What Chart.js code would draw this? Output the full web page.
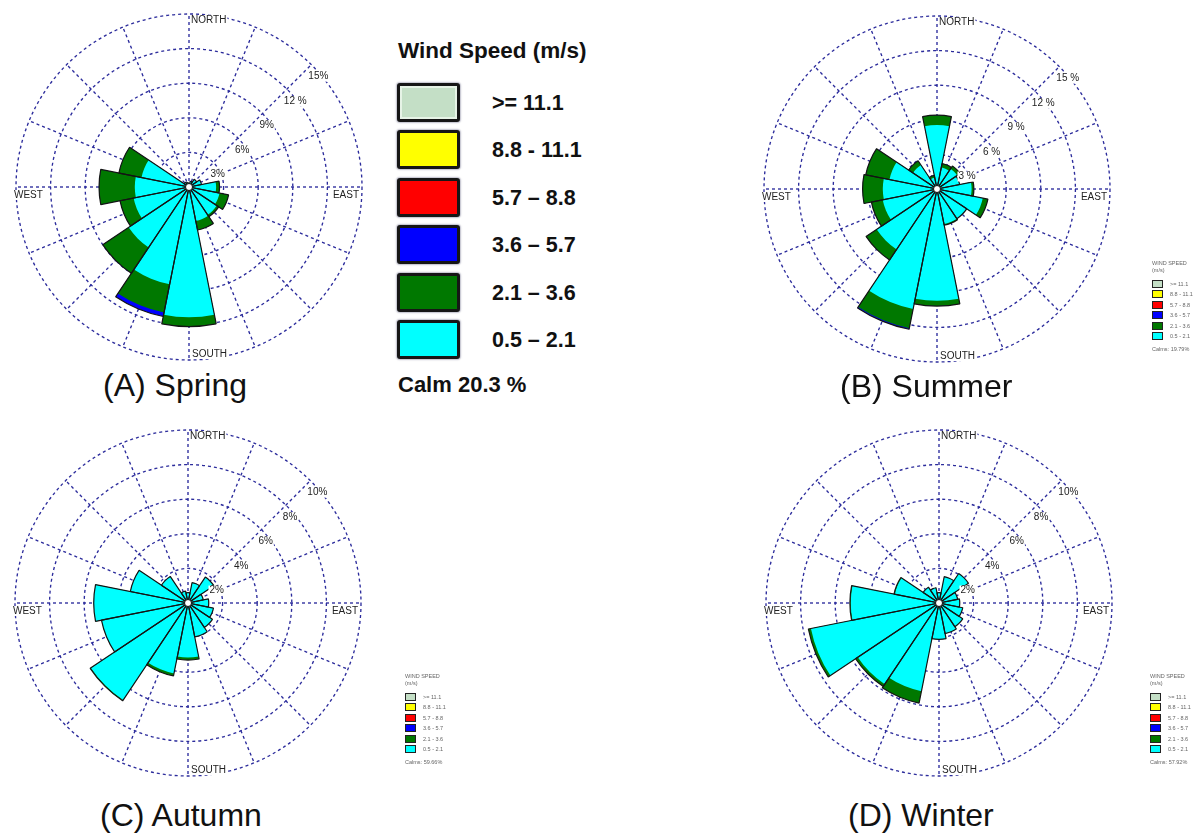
<!DOCTYPE html>
<html>
<head>
<meta charset="utf-8">
<title>Seasonal wind roses</title>
<script src="https://cdn.jsdelivr.net/npm/chart.js@4.4.1/dist/chart.umd.min.js"></script>
<style>
  html, body { margin: 0; padding: 0; background: #fff; overflow: hidden; }
  #page { position: relative; width: 1200px; height: 834px; font-family: "Liberation Sans", Arial, sans-serif; color: #111; }
  .rose { position: absolute; width: 360px; height: 360px; }
  .title { position: absolute; font-size: 32px; line-height: 32px; white-space: nowrap; color: #111; }
  .legend-head { position: absolute; left: 398px; top: 40px; font-size: 22.5px; line-height: 22.5px; font-weight: bold; white-space: nowrap; }
  .legend-box { position: absolute; left: 397px; width: 57px; height: 33px; border: 3px solid #161616; border-radius: 3px;
                box-shadow: 0 0 1.5px 1px rgba(110, 110, 140, 0.45); }
  .legend-label { position: absolute; left: 492px; font-size: 21.5px; line-height: 22px; font-weight: bold; white-space: nowrap; }
  .legend-calm { position: absolute; left: 398px; top: 374px; font-size: 22px; line-height: 22px; font-weight: bold; white-space: nowrap; }
  .mini { position: absolute; width: 60px; height: 96px; filter: blur(0.4px); color: #666; font-size: 5.5px; line-height: 6px; }
  .mini div { position: absolute; white-space: nowrap; }
  .mini .sw { width: 9px; height: 6px; border: 1px solid #222; }
</style>
</head>
<body>
<div id="page">
  <canvas id="spring" class="rose" width="360" height="360" style="left:9px;top:7px"></canvas>
  <canvas id="summer" class="rose" width="360" height="360" style="left:757px;top:9px"></canvas>
  <canvas id="autumn" class="rose" width="360" height="360" style="left:8px;top:423px"></canvas>
  <canvas id="winter" class="rose" width="360" height="360" style="left:759px;top:423px"></canvas>

  <div class="title" style="left:103px;top:369px">(A) Spring</div>
  <div class="title" style="left:840px;top:370px">(B) Summer</div>
  <div class="title" style="left:100px;top:799px">(C) Autumn</div>
  <div class="title" style="left:848px;top:799px">(D) Winter</div>

  <div id="bigLegend"></div>
  <div id="miniSummer" class="mini" style="left:1152px;top:260px"></div>
  <div id="miniAutumn" class="mini" style="left:405px;top:673px"></div>
  <div id="miniWinter" class="mini" style="left:1150px;top:673px"></div>
</div>

<script>
// Sixteen direction sectors, clockwise from north
const directions = ['N', 'NNE', 'NE', 'ENE', 'E', 'ESE', 'SE', 'SSE',
                    'S', 'SSW', 'SW', 'WSW', 'W', 'WNW', 'NW', 'NNW'];

// Wind speed classes (m/s) and their colours, fastest first
const speedClasses = ['>= 11.1', '8.8 - 11.1', '5.7 – 8.8', '3.6 – 5.7', '2.1 – 3.6', '0.5 – 2.1'];
const classColors  = ['#c4dfc6', '#ffff00', '#ff0000', '#0000ff', '#007800', '#00ffff'];

// Frequency (%) per direction for each speed class
const springLight    = [0.3, 0.5, 0.8, 1.1, 2.35, 2.7, 2.9, 3.0, 11.3, 8.6, 6.3, 4.9, 4.7, 4.2, 0.5, 0.4];
const springModerate = [0, 0, 0, 0, 0.3, 0.8, 0.2, 0.8, 0.8, 2.5, 2.7, 1.2, 3.1, 2.0, 0, 0];
const springFresh    = [0, 0, 0, 0, 0, 0, 0, 0, 0, 0.35, 0, 0, 0, 0, 0, 0];

const summerLight    = [5.55, 1.9, 2.1, 2.0, 3.0, 4.05, 3.1, 3.1, 9.7, 10.6, 6.3, 4.8, 4.7, 4.2, 2.5, 1.0];
const summerModerate = [0.85, 0.35, 0.3, 0, 0.2, 0.45, 0, 0.1, 0.45, 1.7, 1.1, 1.0, 1.75, 2.1, 0.45, 0.2];
const summerFresh    = [0, 0, 0, 0, 0, 0, 0, 0, 0, 0.1, 0, 0, 0, 0, 0, 0];

const autumnLight    = [0.6, 1.2, 1.8, 0.9, 1.2, 1.5, 1.7, 2.0, 3.15, 4.15, 6.75, 5.1, 5.45, 3.4, 1.85, 0.7];
const autumnModerate = [0, 0, 0, 0, 0, 0, 0, 0, 0.15, 0.15, 0.05, 0, 0, 0, 0, 0];

const winterLight    = [0.6, 1.55, 2.05, 1.1, 1.2, 1.4, 1.65, 1.8, 2.1, 5.2, 5.65, 7.55, 5.1, 2.6, 1.1, 0.9];
const winterModerate = [0, 0, 0, 0, 0, 0, 0, 0, 0, 0.7, 0.15, 0.15, 0.05, 0.05, 0, 0];

// Calm percentages
const springCalm = 20.3;
const summerCalm = 19.79;
const autumnCalm = 59.66;
const winterCalm = 57.92;

// Ring values and their labels
const springTicks = [3, 6, 9, 12, 15];
const springTickLabels = ['3%', '6%', '9%', '12 %', '15%'];
const summerTicks = [3, 6, 9, 12, 15];
const summerTickLabels = ['3 %', '6 %', '9 %', '12 %', '15 %'];
const autumnTicks = [2, 4, 6, 8, 10];
const autumnTickLabels = ['2%', '4%', '6%', '8%', '10%'];
const winterTicks = [2, 4, 6, 8, 10];
const winterTickLabels = ['2%', '4%', '6%', '8%', '10%'];

const compassNames = ['NORTH', 'EAST', 'SOUTH', 'WEST'];

const GRID_COLOR = '#2c2c9c';
const FONT = '"Liberation Sans", Arial, sans-serif';

// Calm circle, ring labels and compass names on top of the petals
const roseDecor = {
  id: 'roseDecor',
  afterDatasetsDraw(chart, args, opts) {
    const s = chart.scales.rGrid;
    const ctx = chart.ctx;
    const cx = s.xCenter, cy = s.yCenter, R = s.drawingArea;
    ctx.save();

    ctx.beginPath();
    ctx.arc(cx, cy, 3.5, 0, Math.PI * 2);
    ctx.fillStyle = '#fff';
    ctx.fill();
    ctx.lineWidth = 1;
    ctx.strokeStyle = '#111';
    ctx.stroke();

    ctx.font = '10px ' + FONT;
    ctx.textBaseline = 'middle';
    ctx.textAlign = 'left';
    opts.ticks.forEach((v, i) => {
      const d = s.getDistanceFromCenterForValue(v);
      const x = cx + d * Math.SQRT1_2 - 3;
      const y = cy - d * Math.SQRT1_2 + 12;
      const t = opts.tickLabels[i];
      const w = ctx.measureText(t).width;
      ctx.fillStyle = '#fff';
      ctx.fillRect(x - 1, y - 5, w + 2, 10);
      ctx.fillStyle = '#222';
      ctx.fillText(t, x, y);
    });

    const place = {
      NORTH: { x: cx + 2,     y: cy - R + 1, align: 'left',  base: 'top' },
      EAST:  { x: cx + R - 3, y: cy + 3,     align: 'right', base: 'top' },
      SOUTH: { x: cx + 3,     y: cy + R - 1, align: 'left',  base: 'bottom' },
      WEST:  { x: cx - R - 2, y: cy + 3,     align: 'left',  base: 'top' }
    };
    compassNames.forEach(name => {
      const p = place[name];
      const w = ctx.measureText(name).width;
      const left = p.align === 'left' ? p.x : p.x - w;
      const top = p.base === 'top' ? p.y : p.y - 10;
      ctx.fillStyle = '#fff';
      ctx.fillRect(left - 1, top, w + 2, 10);
      ctx.textAlign = p.align;
      ctx.textBaseline = p.base;
      ctx.fillStyle = '#222';
      ctx.fillText(name, p.x, p.y);
    });
    ctx.restore();
  }
};

function makeRose(id, layers, ticks, tickLabels) {
  // inner class first; each stacked layer is drawn as the running total
  const layerColors = ['#00ffff', '#007800', '#0000ff'];
  const cumulative = [];
  layers.forEach((layer, k) => {
    cumulative.push(layer.map((v, i) => v + (k ? cumulative[k - 1][i] : 0)));
  });
  const total = cumulative[cumulative.length - 1];
  const datasets = [{
    data: total, rAxisID: 'r',
    backgroundColor: 'rgba(0,0,0,0)', borderColor: '#141414', borderWidth: 1.2
  }];
  cumulative.forEach((vals, k) => {
    datasets.push({ data: vals, rAxisID: 'r', backgroundColor: layerColors[k], borderWidth: 0 });
  });

  const maxV = ticks[ticks.length - 1];
  const step = ticks[0];
  const common = { min: 0, max: maxV, ticks: { display: false, stepSize: step }, pointLabels: { display: false } };

  new Chart(document.getElementById(id), {
    type: 'polarArea',
    data: { labels: directions, datasets },
    options: {
      responsive: false,
      animation: false,
      events: [],
      layout: { padding: 7 },
      scales: {
        r: Object.assign({}, common, {
          type: 'radialLinear', display: false, startAngle: -11.25,
          grid: { display: false }, angleLines: { display: false }
        }),
        rGrid: Object.assign({}, common, {
          type: 'radialLinear', axis: 'r', display: true, startAngle: 0,
          grid: { display: true, circular: true, color: GRID_COLOR, lineWidth: 1.35 },
          border: { dash: [3, 3] },
          angleLines: { display: true, color: GRID_COLOR, lineWidth: 1.35, borderDash: [3, 3] }
        })
      },
      plugins: {
        legend: { display: false },
        tooltip: { enabled: false },
        roseDecor: { ticks, tickLabels }
      }
    },
    plugins: [roseDecor]
  });
}

makeRose('spring', [springLight, springModerate, springFresh], springTicks, springTickLabels);
makeRose('summer', [summerLight, summerModerate, summerFresh], summerTicks, summerTickLabels);
makeRose('autumn', [autumnLight, autumnModerate], autumnTicks, autumnTickLabels);
makeRose('winter', [winterLight, winterModerate], winterTicks, winterTickLabels);

// Large speed-class key
(function () {
  const host = document.getElementById('bigLegend');
  let html = '<div class="legend-head">Wind Speed (m/s)</div>';
  speedClasses.forEach((label, i) => {
    const top = 83 + i * 47.4;
    const inner = i === 0 ? 'box-shadow:inset 0 0 0 2px #e6f3e6, 0 0 1.5px 1px rgba(110,110,140,0.45);' : '';
    html += `<div class="legend-box" style="top:${top}px;background:${classColors[i]};${inner}"></div>`;
    html += `<div class="legend-label" style="top:${top + 9}px">${label}</div>`;
  });
  html += `<div class="legend-calm">Calm ${springCalm} %</div>`;
  host.innerHTML = html;
})();

// Small speed-class keys
function miniLegend(id, calm) {
  const host = document.getElementById(id);
  let html = '<div style="left:0;top:0">WIND SPEED</div><div style="left:0;top:6.5px">(m/s)</div>';
  speedClasses.forEach((label, i) => {
    const top = 19.5 + i * 10.5;
    html += `<div class="sw" style="left:0;top:${top}px;background:${classColors[i]}"></div>`;
    html += `<div style="left:18px;top:${top + 1}px">${label.replace('–', '-')}</div>`;
  });
  html += `<div style="left:0;top:86px">Calms: ${calm.toFixed(2)}%</div>`;
  host.innerHTML = html;
}
miniLegend('miniSummer', summerCalm);
miniLegend('miniAutumn', autumnCalm);
miniLegend('miniWinter', winterCalm);
</script>
</body>
</html>
